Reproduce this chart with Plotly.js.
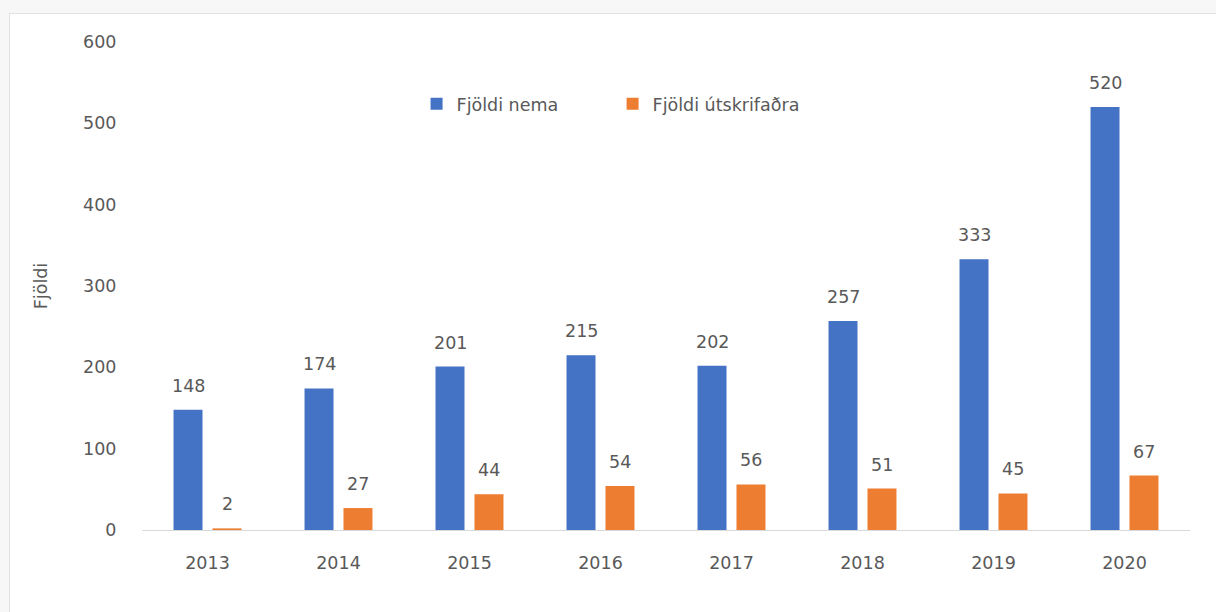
<!DOCTYPE html>
<html>
<head>
<meta charset="utf-8">
<script src="https://cdn.plot.ly/plotly-3.0.1.min.js"></script>
<style>
html,body{margin:0;padding:0;background:#f7f7f7;}
#chart{position:absolute;left:9px;top:13px;width:1207px;height:599px;background:#fff;border-left:1px solid #e2e2e2;border-top:1px solid #e2e2e2;}
</style>
</head>
<body>
<div id="chart"></div>
<script>
const years = ['2013','2014','2015','2016','2017','2018','2019','2020'];
const nemar = [148,174,201,215,202,257,333,520];
const utskrifadir = [2,27,44,54,56,51,45,67];
const seriesNames = ['Fjöldi nema','Fjöldi útskrifaðra'];
const yTicks = [0,100,200,300,400,500,600];

const font = {family:'DejaVu Sans, sans-serif', size:17.5, color:'#595959'};
const idx = years.map((_,i)=>i);

const traces = [
  {type:'bar', name:seriesNames[0], x:idx, y:nemar, marker:{color:'#4472C4'}},
  {type:'bar', name:seriesNames[1], x:idx, y:utskrifadir, marker:{color:'#ED7D31'}}
];

const annotations = [];
idx.forEach(i=>{
  annotations.push({x:i, y:nemar[i], text:String(nemar[i]), showarrow:false, xshift:-19.5, yshift:12, yanchor:'bottom', font:font});
  annotations.push({x:i, y:utskrifadir[i], text:String(utskrifadir[i]), showarrow:false, xshift:19.5, yshift:12, yanchor:'bottom', font:font});
});

const layout = {
  width:1207, height:599,
  margin:{l:132, r:27, t:28, b:83},
  paper_bgcolor:'rgba(0,0,0,0)', plot_bgcolor:'rgba(0,0,0,0)',
  font:font,
  barmode:'group', bargap:0.405, bargroupgap:0.256,
  showlegend:true,
  legend:{orientation:'h', x:0.262, xanchor:'left', y:0.873, yanchor:'middle', font:font, bgcolor:'rgba(0,0,0,0)', entrywidth:151},
  xaxis:{type:'linear', range:[-0.5,7.5], autorange:false, tickvals:idx, ticktext:years, showline:true, linecolor:'#d9d9d9', linewidth:1, showgrid:false, zeroline:false, ticks:'outside', ticklen:17, tickcolor:'rgba(0,0,0,0)', tickfont:font},
  yaxis:{range:[0,600], autorange:false, tickvals:yTicks, showgrid:false, zeroline:false, showline:false, ticks:'outside', ticklen:21, tickcolor:'rgba(0,0,0,0)', tickfont:font,
         title:{text:'Fjöldi', font:font, standoff:30}},
  annotations:annotations
};

Plotly.newPlot('chart', traces, layout, {displayModeBar:false, staticPlot:true});
</script>
</body>
</html>
